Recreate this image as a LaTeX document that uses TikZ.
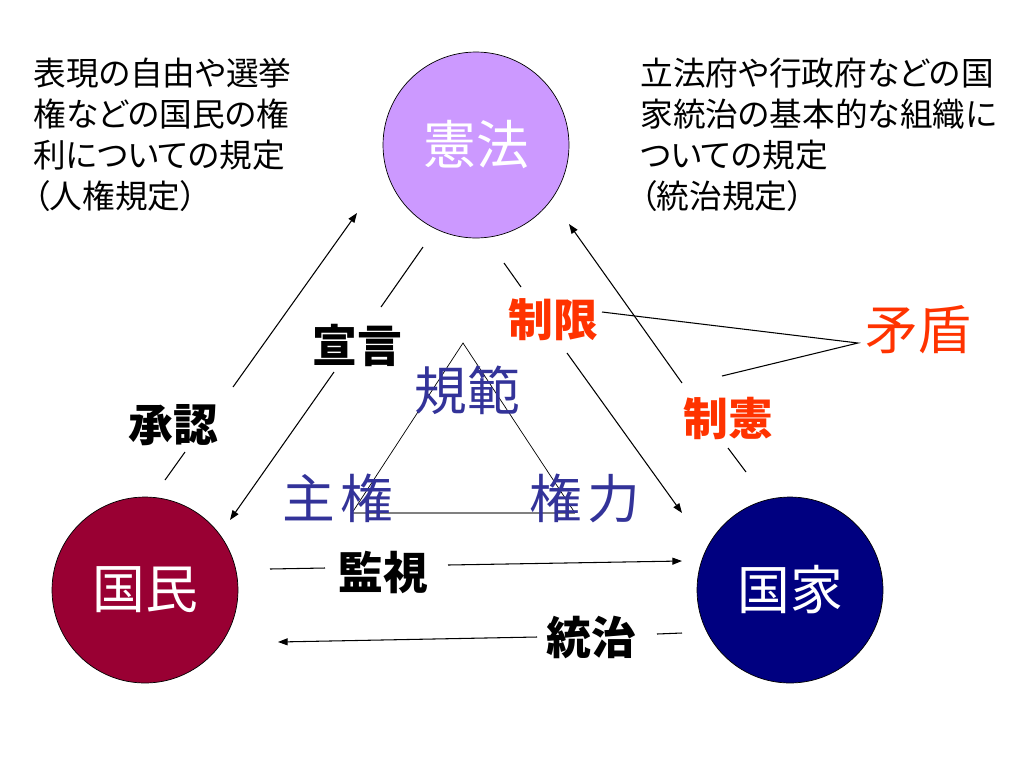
\documentclass[tikz,border=0pt]{standalone}
\usepackage{fontspec}
\setmainfont{Noto Sans CJK JP}[RawFeature=+palt]
\usetikzlibrary{arrows.meta, positioning}
\definecolor{kenpoC}{HTML}{CC99FF}
\definecolor{kokuminC}{HTML}{990033}
\definecolor{kokkaC}{HTML}{000080}
\definecolor{redC}{HTML}{FF3300}
\definecolor{normC}{HTML}{333399}

\begin{document}
\begin{tikzpicture}[
	x=0.02cm, y=-0.02cm,
	ball/.style = {circle, draw=black, line width=0.4pt, minimum size=3.72cm, inner sep=0pt,
		text=white, font=\fontsize{30}{36}\selectfont},
	memo/.style = {align=left, anchor=north west, inner sep=0pt,
		font=\fontsize{18.6}{23.3}\selectfont},
	act/.style = {inner sep=0pt, font=\fontsize{25.5}{30}\selectfont\bfseries},
	big/.style = {inner sep=0pt, text=normC, font=\fontsize{30}{36}\selectfont},
	ln/.style = {line width=0.6pt},
	arr/.style = {ln, -{Triangle[length=5.5pt,width=4pt]}}
     ]
	\useasboundingbox (0,0) rectangle (1024,768);
%
	\node[ball, fill=kenpoC] (kenpo) at (476,145) {憲法};
	\node[ball, fill=kokuminC] (kokumin) at (145,590) {国民};
	\node[ball, fill=kokkaC] (kokka) at (790,590) {国家};
%
	\node[memo] (jinken) at (33,58) {表現の自由や選挙\\権などの国民の権\\利についての規定\\（人権規定）};
	\node[memo] (touchi) at (640,58) {立法府や行政府などの国\\家統治の基本的な組織に\\ついての規定\\（統治規定）};
%
	% inner triangle
	\coordinate (tTop) at (463,343);
	\coordinate (tL) at (352,513);
	\coordinate (tR) at (575,513);
	\draw[line width=0.4pt] (tL) -- (tTop) -- (tR);
	\draw[gray, line width=1.1pt] (tL) -- (tR);
	\node[big] (kihan) at (467,390) {規範};
	\node[big] (shuken) at (338,498) {主\hspace{3pt}権};
	\node[big] (kenryoku) at (585,498) {権\hspace{3pt}力};
%
	% 承認
	\coordinate (a1) at (165,480);
	\coordinate (a2) at (185,452);
	\coordinate (a3) at (233,387);
	\coordinate (a4) at (357,213);
	\draw[ln] (a1) -- (a2);
	\draw[arr] (a3) -- (a4);
	\node[act] (shounin) at (173,425) {承認};
%
	% 宣言
	\coordinate (b1) at (423,247);
	\coordinate (b2) at (381,307);
	\coordinate (b3) at (334,372);
	\coordinate (b4) at (230,520);
	\draw[ln] (b1) -- (b2);
	\draw[arr] (b3) -- (b4);
	\node[act] (sengen) at (357,345) {宣言};
%
	% 制限
	\coordinate (c1) at (504,263);
	\coordinate (c2) at (521,287);
	\coordinate (c3) at (567,353);
	\coordinate (c4) at (682,513);
	\draw[ln] (c1) -- (c2);
	\draw[arr] (c3) -- (c4);
	\node[act, text=redC] (seigen) at (553,320) {制限};
%
	% 制憲
	\coordinate (d1) at (746,472);
	\coordinate (d2) at (728,448);
	\coordinate (d3) at (682,383);
	\coordinate (d4) at (569,224);
	\draw[ln] (d1) -- (d2);
	\draw[arr] (d3) -- (d4);
	\node[act, text=redC] (seiken) at (728,418) {制憲};
%
	% 矛盾
	\node[inner sep=0pt, text=redC, font=\fontsize{30}{36}\selectfont] (mujun) at (918,330) {矛盾};
	\coordinate (mj) at (858,343);
	\coordinate (mjA) at (602,312);
	\coordinate (mjB) at (722,376);
	\draw[ln] (mjA) -- (mj) -- (mjB);
%
	% 監視
	\coordinate (e1) at (270,569);
	\coordinate (e2) at (325,568);
	\coordinate (e3) at (448,565);
	\coordinate (e4) at (682,561);
	\draw[ln] (e1) -- (e2);
	\draw[arr] (e3) -- (e4);
	\node[act] (kanshi) at (383,572) {監視};
%
	% 統治
	\coordinate (f1) at (682,633);
	\coordinate (f2) at (657,634);
	\coordinate (f3) at (537,637);
	\coordinate (f4) at (278,642);
	\draw[ln] (f1) -- (f2);
	\draw[arr] (f3) -- (f4);
	\node[act] (touji) at (591,637) {統治};
\end{tikzpicture}
\end{document}
